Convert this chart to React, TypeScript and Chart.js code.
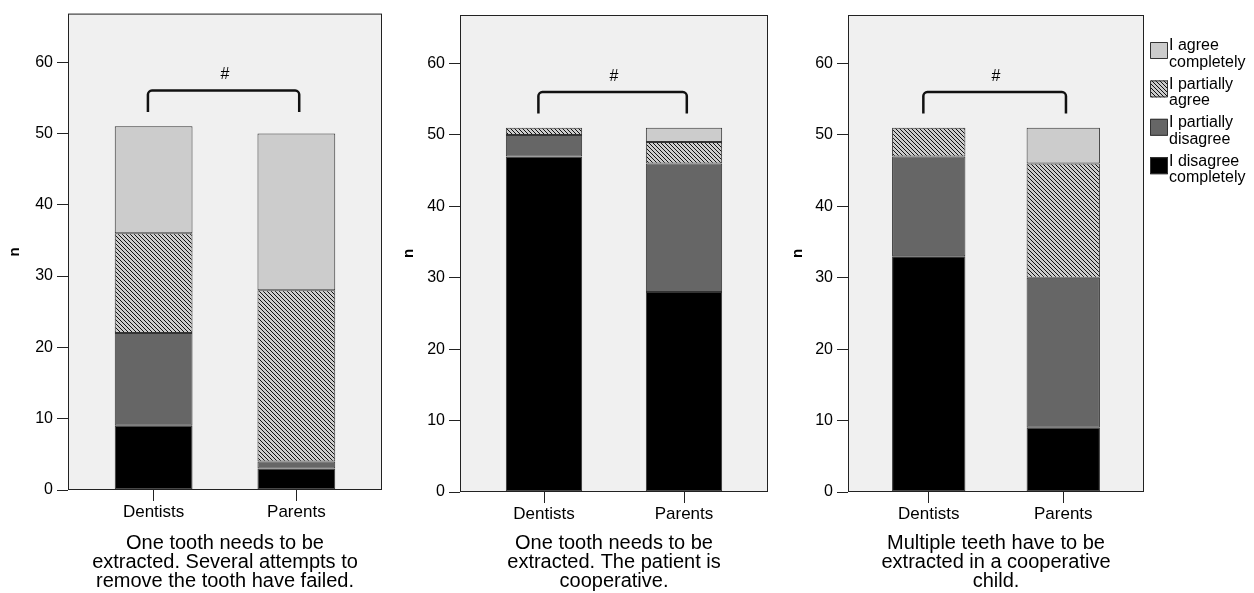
import React, { useEffect, useRef } from 'react';
import { Chart, registerables } from 'chart.js';

Chart.register(...registerables);

const FONT = "'Liberation Sans', Arial, Helvetica, sans-serif";
Chart.defaults.font.family = FONT;

// ---------- data ----------
const groups = ['Dentists', 'Parents'];
const groupPositions = [0, 1];
const seriesNames = ['I disagree completely', 'I partially disagree', 'I partially agree', 'I agree completely'];
const legendLines = [
  ['I disagree', 'completely'],
  ['I partially', 'disagree'],
  ['I partially', 'agree'],
  ['I agree', 'completely'],
];
const yTickValues = [0, 10, 20, 30, 40, 50, 60];
const yMax = 66.8;
const yAxisTitle = 'n';
const sigMark = '#';
const sigMarkLevel = 58.2;
const bracketLevel = 56;
const bracketLegEnd = 53;
const bracketSpan = [-0.04, 1.02];

const p1Title = ['One tooth needs to be', 'extracted. Several attempts to', 'remove the tooth have failed.'];
const p1DisagreeCompletely = [9, 3];
const p1PartiallyDisagree = [13, 1];
const p1PartiallyAgree = [14, 24];
const p1AgreeCompletely = [15, 22];

const p2Title = ['One tooth needs to be', 'extracted. The patient is', 'cooperative.'];
const p2DisagreeCompletely = [47, 28];
const p2PartiallyDisagree = [3, 18];
const p2PartiallyAgree = [1, 3];
const p2AgreeCompletely = [0, 2];

const p3Title = ['Multiple teeth have to be', 'extracted in a cooperative', 'child.'];
const p3DisagreeCompletely = [33, 9];
const p3PartiallyDisagree = [14, 21];
const p3PartiallyAgree = [4, 16];
const p3AgreeCompletely = [0, 5];

// ---------- layout ----------
const H = 593;
type Spec = {
  left: number; width: number; yAxisW: number; top: number; bottom: number; padRight: number;
  title: string[]; series: number[][]; legend: boolean;
};
const panels: Spec[] = [
  { left: 0, width: 394, yAxisW: 68, top: 13, bottom: 490, padRight: 12, title: p1Title,
    series: [p1DisagreeCompletely, p1PartiallyDisagree, p1PartiallyAgree, p1AgreeCompletely], legend: false },
  { left: 394, width: 389, yAxisW: 66, top: 15, bottom: 492, padRight: 15, title: p2Title,
    series: [p2DisagreeCompletely, p2PartiallyDisagree, p2PartiallyAgree, p2AgreeCompletely], legend: false },
  { left: 783, width: 471, yAxisW: 65, top: 15, bottom: 492, padRight: 110, title: p3Title,
    series: [p3DisagreeCompletely, p3PartiallyDisagree, p3PartiallyAgree, p3AgreeCompletely], legend: true },
];

const LIGHT = '#cccccc';
const DARK = '#666666';
const BLACK = '#000000';
const EDGE = '#333333';

function makeHatch(ctx: CanvasRenderingContext2D) {
  const c = document.createElement('canvas');
  c.width = 4; c.height = 4;
  const g = c.getContext('2d')!;
  g.fillStyle = LIGHT; g.fillRect(0, 0, 4, 4);
  g.fillStyle = '#111111';
  for (let i = 0; i < 4; i++) g.fillRect(i, i, 1, 1);
  return ctx.createPattern(c, 'repeat')!;
}

function Panel({ spec }: { spec: Spec }) {
  const ref = useRef<HTMLCanvasElement>(null);
  useEffect(() => {
    const canvas = ref.current!;
    const ctx = canvas.getContext('2d')!;
    const hatch = makeHatch(ctx);
    const fills: any[] = [BLACK, DARK, hatch, LIGHT];

    const plugin = {
      id: 'decor',
      beforeDraw(chart: any) {
        const { ctx: c, chartArea: a } = chart;
        c.save();
        c.fillStyle = '#f0f0f0';
        c.fillRect(a.left, a.top, a.right - a.left, a.bottom - a.top);
        c.restore();
      },
      afterDraw(chart: any) {
        const { ctx: c, chartArea: a } = chart;
        const xs = chart.scales.x, ys = chart.scales.y;
        c.save();
        c.strokeStyle = '#222222';
        c.lineWidth = 1;
        c.strokeRect(a.left + 0.5, a.top + 0.5, a.right - a.left - 1, a.bottom - a.top - 1);
        // bracket
        const x1 = xs.getPixelForValue(bracketSpan[0]);
        const x2 = xs.getPixelForValue(bracketSpan[1]);
        const yT = ys.getPixelForValue(bracketLevel);
        const yL = ys.getPixelForValue(bracketLegEnd);
        c.strokeStyle = '#111111';
        c.lineWidth = 2.5;
        c.lineJoin = 'round';
        c.beginPath();
        c.moveTo(x1, yL);
        c.arcTo(x1, yT, x2, yT, 4);
        c.arcTo(x2, yT, x2, yL, 4);
        c.lineTo(x2, yL);
        c.stroke();
        c.fillStyle = '#000';
        c.font = `16px ${FONT}`;
        c.textAlign = 'center';
        c.textBaseline = 'middle';
        c.fillText(sigMark, xs.getPixelForValue(0.5), ys.getPixelForValue(sigMarkLevel));
        // legend
        if (spec.legend) {
          const lx = a.right + 6;
          for (let n = 0; n < 4; n++) {
            const k = 3 - n;
            const cy = 46 + n * 38.4;
            const top = cy - 4;
            c.fillStyle = fills[k];
            c.fillRect(lx, top, 18, 17);
            c.strokeStyle = EDGE;
            c.lineWidth = 1;
            c.strokeRect(lx + 0.5, top + 0.5, 17, 16);
            c.fillStyle = '#000';
            c.font = `16px ${FONT}`;
            c.textAlign = 'left';
            c.textBaseline = 'middle';
            legendLines[k].forEach((t, j) => c.fillText(t, lx + 19, cy + j * 16.5));
          }
        }
        c.restore();
      },
    };

    const chart = new Chart(ctx, {
      type: 'bar',
      data: {
        datasets: spec.series.map((vals, k) => ({
          label: seriesNames[k],
          data: vals.map((v, i) => ({ x: groupPositions[i], y: v })),
          backgroundColor: fills[k],
          borderColor: EDGE,
          borderWidth: 1,
          borderSkipped: false,
          barPercentage: 0.545,
          categoryPercentage: 1,
        })),
      },
      options: {
        responsive: false,
        animation: false,
        events: [],
        layout: { padding: { left: 0, right: spec.padRight, top: spec.top, bottom: 0 } },
        plugins: { legend: { display: false }, tooltip: { enabled: false }, title: { display: false } },
        scales: {
          x: {
            type: 'linear',
            stacked: true,
            min: -0.6,
            max: 1.6,
            offset: false,
            afterBuildTicks: (s: any) => { s.ticks = groupPositions.map((v) => ({ value: v })); },
            afterFit: (s: any) => { s.height = H - spec.bottom; },
            grid: { display: true, drawOnChartArea: false, drawTicks: true, tickLength: 11, color: '#222222', offset: false },
            border: { display: false },
            ticks: {
              color: '#000',
              font: { size: 17 },
              padding: 1,
              maxRotation: 0,
              autoSkip: false,
              callback: (v: any) => groups[groupPositions.indexOf(Number(v))] ?? '',
            },
            title: {
              display: true,
              text: spec.title,
              color: '#000',
              font: { size: 20, lineHeight: 0.95 },
              padding: { top: 0, bottom: 2.5 },
            },
          },
          y: {
            type: 'linear',
            stacked: true,
            min: 0,
            max: yMax,
            afterBuildTicks: (s: any) => { s.ticks = yTickValues.map((v) => ({ value: v })); },
            afterFit: (s: any) => { s.width = spec.yAxisW; },
            grid: { display: true, drawOnChartArea: false, drawTicks: true, tickLength: 11, color: '#222222' },
            border: { display: false },
            ticks: { color: '#000', font: { size: 16 }, padding: 4 },
            title: {
              display: true,
              text: yAxisTitle,
              color: '#000',
              font: { size: 15, weight: 'bold' },
              padding: { top: 6, bottom: 0 },
            },
          },
        },
      },
      plugins: [plugin],
    } as any);
    return () => chart.destroy();
  }, []);
  return (
    <canvas
      ref={ref}
      width={spec.width}
      height={H}
      style={{ position: 'absolute', left: spec.left, top: 0, width: spec.width, height: H }}
    />
  );
}

export default function App() {
  return (
    <div style={{ position: 'absolute', left: 0, top: 0, width: 1254, height: H, background: '#fff' }}>
      {panels.map((p, i) => (
        <Panel key={i} spec={p} />
      ))}
    </div>
  );
}
